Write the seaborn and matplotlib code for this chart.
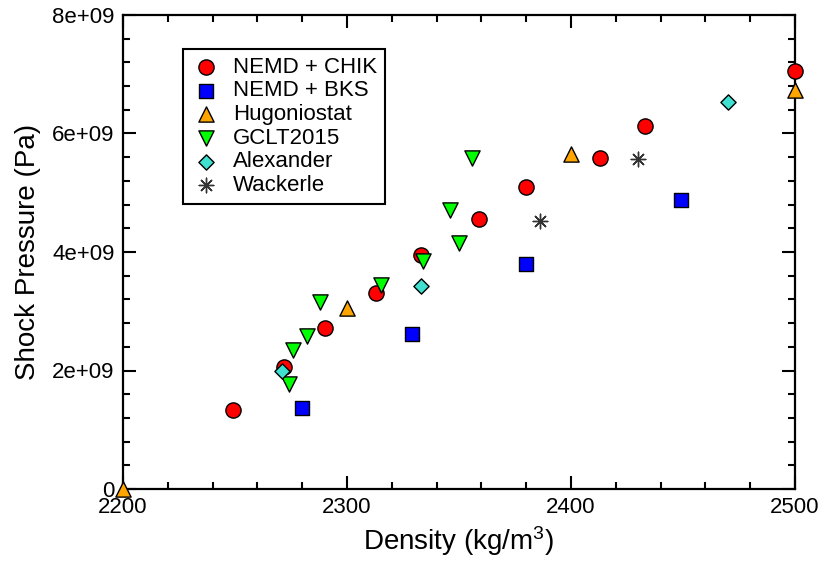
import matplotlib
import matplotlib.pyplot as plt
import pandas as pd
import seaborn as sns
from matplotlib.ticker import FuncFormatter, MultipleLocator

matplotlib.use("Agg")

# values
chik_density = [2249, 2272, 2290, 2313, 2333, 2359, 2380, 2413, 2433, 2500]
chik_pressure = [1.33e9, 2.06e9, 2.72e9, 3.31e9, 3.95e9, 4.56e9, 5.09e9, 5.58e9, 6.12e9, 7.06e9]

bks_density = [2280, 2329, 2380, 2449]
bks_pressure = [1.37e9, 2.61e9, 3.80e9, 4.88e9]

hugo_density = [2200, 2300, 2400, 2500]
hugo_pressure = [0.0, 3.06e9, 5.65e9, 6.73e9]

gclt_density = [2274, 2276, 2282, 2288, 2315, 2334, 2346, 2350, 2356]
gclt_pressure = [1.78e9, 2.35e9, 2.59e9, 3.16e9, 3.44e9, 3.85e9, 4.71e9, 4.15e9, 5.58e9]

alex_density = [2271, 2333, 2470]
alex_pressure = [2.00e9, 3.43e9, 6.53e9]

wack_density = [2386, 2430]
wack_pressure = [4.53e9, 5.56e9]

series = [
    ('NEMD + CHIK', chik_density, chik_pressure, 'o', '#ff0000', 120),
    ('NEMD + BKS', bks_density, bks_pressure, 's', '#0000ff', 95),
    ('Hugoniostat', hugo_density, hugo_pressure, '^', '#ffa500', 120),
    ('GCLT2015', gclt_density, gclt_pressure, 'v', '#00ff00', 120),
    ('Alexander', alex_density, alex_pressure, 'D', '#40e0d0', 60),
    ('Wackerle', wack_density, wack_pressure, (8, 2, 0), '#333333', 110),
]

sns.set_style('ticks')
plt.rcParams['font.family'] = ['Liberation Sans', 'DejaVu Sans']
plt.rcParams['mathtext.fontset'] = 'custom'
plt.rcParams['mathtext.rm'] = 'Liberation Sans'
plt.rcParams['mathtext.it'] = 'Liberation Sans:italic'
for key in ['text.color', 'axes.labelcolor', 'xtick.color', 'ytick.color']:
    plt.rcParams[key] = 'black'

fig = plt.figure(figsize=(8.36, 5.7), dpi=100)
ax = fig.add_axes([0.147, 0.142, 0.804, 0.832])

for label, xs, ys, marker, color, size in series:
    df = pd.DataFrame({'density': xs, 'pressure': ys})
    if label == 'Wackerle':
        sns.scatterplot(data=df, x='density', y='pressure', ax=ax, marker=marker,
                        color=color, s=size, linewidth=1.0, label=label, clip_on=False, zorder=3)
    else:
        sns.scatterplot(data=df, x='density', y='pressure', ax=ax, marker=marker,
                        color=color, edgecolor='black', s=size, linewidth=1.0,
                        label=label, clip_on=False, zorder=3)

ax.set_xlim(2200, 2500)
ax.set_ylim(0, 8e9)
ax.xaxis.set_major_locator(MultipleLocator(100))
ax.xaxis.set_minor_locator(MultipleLocator(20))
ax.yaxis.set_major_locator(MultipleLocator(2e9))
ax.yaxis.set_minor_locator(MultipleLocator(4e8))
ax.yaxis.set_major_formatter(FuncFormatter(lambda v, p: '0' if v == 0 else f'{v:.0e}'))

ax.tick_params(which='both', direction='in', top=True, right=True, width=1.5, labelsize=16, pad=6)
ax.tick_params(which='major', length=9.5)
ax.tick_params(which='minor', length=5)
for side in ax.spines.values():
    side.set_visible(True)
    side.set_linewidth(1.6)
    side.set_color('black')

ax.set_xlabel(r'Density (kg/m$^3$)', fontsize=20, labelpad=4)
ax.set_ylabel('Shock Pressure (Pa)', fontsize=20, labelpad=8)

leg = ax.legend(loc='upper left', bbox_to_anchor=(0.089, 0.928), borderaxespad=0,
                fontsize=16, frameon=True, fancybox=False, edgecolor='black',
                labelspacing=0.12, handletextpad=0.5, borderpad=0.35, handlelength=1.4)
leg.get_frame().set_linewidth(1.5)
leg.get_frame().set_alpha(1)

fig.savefig('out.png', dpi=100)
